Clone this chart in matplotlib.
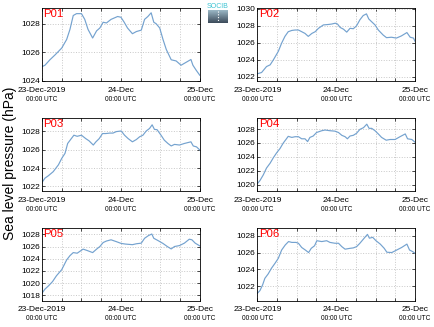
import numpy as np
import matplotlib
matplotlib.use('Agg')
import matplotlib.pyplot as plt

plt.rcParams['font.family'] = ['Liberation Sans', 'DejaVu Sans']

# hours since 23-Dec-2019 00:00 UTC and sea level pressure (hPa)
p01_h = [0, 0.9, 2.4, 4, 6, 7.5, 8.5, 9.5, 10.5, 12, 13, 14, 15.4, 16.6, 17.6, 18.6, 19.6, 21, 23, 24,
         25, 26, 27.5, 28.7, 30.2, 31.2, 32.2, 33.2, 34, 34.7, 35.8, 36.8, 37.8, 39.3, 40.8, 42.3, 43.8,
         45.3, 45.9, 46.9, 48]
p01_v = [1025.0, 1025.1, 1025.48, 1025.83, 1026.3, 1026.9, 1027.6, 1028.57, 1028.7, 1028.7, 1028.3, 1027.6,
         1027.0, 1027.5, 1027.7, 1028.1, 1028.05, 1028.3, 1028.5, 1028.45, 1028.1, 1027.7, 1027.3, 1027.45,
         1027.55, 1028.3, 1028.5, 1028.76, 1028.1, 1028.0, 1027.7, 1026.9, 1026.2, 1025.48, 1025.4, 1025.1,
         1025.3, 1025.5, 1025.1, 1024.75, 1024.4]

p02_h = [0, 1.3, 2.8, 3.9, 4.9, 6.4, 7.4, 8.4, 9.4, 10.5, 11.5, 12.5, 13.5, 14.5, 15.5, 16.6, 17.6, 18.6,
         20.1, 21.6, 22.6, 23.7, 24.4, 25.2, 26.2, 27.2, 28.2, 29.2, 30.2, 31.2, 32.2, 33.2, 33.9, 34.7,
         35.8, 36.8, 38.3, 39.3, 40.8, 42.3, 43.8, 45.5, 46.5, 47.5, 48]
p02_v = [1022.35, 1022.5, 1023.2, 1023.4, 1024.0, 1025.0, 1025.96, 1026.75, 1027.3, 1027.45, 1027.5, 1027.5,
         1027.3, 1027.1, 1026.75, 1027.1, 1027.3, 1027.7, 1028.1, 1028.15, 1028.2, 1028.3, 1028.2, 1027.8,
         1027.6, 1027.25, 1027.7, 1027.65, 1028.0, 1028.7, 1029.2, 1029.4, 1028.8, 1028.5, 1028.1, 1027.5,
         1026.9, 1026.6, 1026.65, 1026.55, 1026.8, 1027.2, 1026.65, 1026.55, 1026.15]

p03_h = [0, 0.9, 1.9, 3.4, 5, 6, 7, 7.8, 8.7, 9.7, 10.7, 12, 13.3, 14.3, 15.6, 16.4, 17.4, 18.4, 19.4,
         20.6, 21.6, 22.6, 24.1, 25.1, 26.2, 27.5, 28.7, 29.7, 30.7, 31.7, 32.7, 33.5, 34.2, 35, 36.2,
         37.2, 38.3, 39.3, 40.3, 41.8, 43.3, 45.3, 46, 47, 48]
p03_v = [1022.43, 1022.9, 1023.15, 1023.6, 1024.35, 1025.05, 1025.6, 1026.67, 1027.1, 1027.57, 1027.45,
         1027.57, 1027.2, 1026.96, 1026.5, 1026.85, 1027.2, 1027.75, 1027.75, 1027.8, 1027.8, 1027.96,
         1028.03, 1027.57, 1027.2, 1026.85, 1027.1, 1027.4, 1027.57, 1028.03, 1028.3, 1028.7, 1028.2,
         1028.17, 1027.57, 1027.03, 1026.67, 1026.4, 1026.57, 1026.5, 1026.67, 1026.85, 1026.4, 1026.3,
         1025.96]

p04_h = [0, 0.8, 1.8, 2.8, 3.9, 4.9, 5.9, 6.9, 7.9, 8.7, 9.4, 10.5, 11.5, 12.5, 13.5, 14.5, 15.3, 16, 17,
         18, 19.6, 20.6, 22.1, 23.6, 24.7, 25.7, 26.7, 27.4, 28.2, 29.2, 30.2, 31.2, 32.3, 33.3, 34, 34.8,
         35.8, 36.8, 37.8, 39.2, 40.4, 41.9, 43.4, 45, 45.7, 47, 48]
p04_v = [1020.14, 1020.6, 1021.4, 1022.4, 1023.1, 1023.9, 1024.6, 1025.2, 1026.0, 1026.5, 1026.95, 1026.8,
         1026.9, 1026.9, 1026.6, 1026.6, 1026.2, 1026.8, 1027.0, 1027.5, 1027.76, 1027.86, 1027.76, 1027.7,
         1027.5, 1027.1, 1026.9, 1026.6, 1027.0, 1027.1, 1027.4, 1027.95, 1028.2, 1028.7, 1028.1, 1028.1,
         1027.76, 1027.3, 1026.8, 1026.4, 1026.5, 1026.5, 1026.9, 1027.3, 1026.6, 1026.5, 1026.1]

p05_h = [0, 0.9, 1.9, 3.2, 4.4, 6, 7.5, 8.5, 9.5, 10.7, 11.5, 12.5, 13.7, 15.4, 16.6, 17.6, 18.6, 19.6, 21,
         22.6, 24.1, 25.4, 27.5, 28.7, 30.2, 31.2, 32.4, 33.4, 34, 35.3, 36.8, 38.1, 39.3, 40.3, 41.8,
         43.3, 44.8, 45.6, 46.6, 48]
p05_v = [1018.33, 1019.0, 1019.5, 1020.24, 1021.2, 1022.2, 1023.8, 1024.5, 1025.0, 1024.9, 1025.2, 1025.57,
         1025.35, 1025.0, 1025.57, 1026.0, 1026.65, 1026.9, 1027.1, 1026.8, 1026.5, 1026.4, 1026.3, 1026.45,
         1026.55, 1027.35, 1027.8, 1028.05, 1027.35, 1026.97, 1026.5, 1026.0, 1025.6, 1026.0, 1026.15,
         1026.55, 1027.2, 1027.1, 1026.55, 1026.1]

p06_h = [0, 0.8, 1.6, 2.3, 3.3, 4.3, 5.4, 6.4, 7.4, 8.5, 9.5, 10.5, 11.8, 12.5, 13.5, 14.6, 15.6, 16.4,
         17.4, 18.1, 19.6, 21.1, 22.1, 23.6, 24.7, 25.7, 26.7, 28.2, 29.2, 30.2, 31.2, 32.5, 33.5, 34.1,
         35.1, 36.1, 37.4, 38.6, 39.4, 40.9, 42.4, 43.9, 45.5, 46.3, 47.3, 48]
p06_v = [1021.17, 1021.5, 1022.16, 1022.95, 1023.47, 1024.14, 1024.74, 1025.33, 1026.3, 1026.9, 1027.3,
         1027.2, 1027.2, 1027.1, 1026.6, 1026.3, 1026.0, 1026.5, 1026.8, 1027.4, 1027.3, 1027.4, 1027.2,
         1027.1, 1027.1, 1026.7, 1026.4, 1026.5, 1026.55, 1026.7, 1027.1, 1027.7, 1028.15, 1027.7, 1027.8,
         1027.4, 1027.0, 1026.5, 1026.04, 1026.0, 1026.3, 1026.6, 1027.0, 1026.3, 1026.1, 1025.9]

names = ['P01', 'P02', 'P03', 'P04', 'P05', 'P06']
hours = [p01_h, p02_h, p03_h, p04_h, p05_h, p06_h]
values = [p01_v, p02_v, p03_v, p04_v, p05_v, p06_v]
ylims = [(1024, 1029.1), (1021.5, 1030.1), (1021.5, 1029.45),
         (1019.1, 1029.6), (1017.1, 1029.1), (1020.3, 1028.95)]
yticks = [[1024, 1026, 1028], [1022, 1024, 1026, 1028, 1030], [1022, 1024, 1026, 1028],
          [1020, 1022, 1024, 1026, 1028], [1018, 1020, 1022, 1024, 1026, 1028], [1022, 1024, 1026, 1028]]
xlabels = ['23-Dec-2019', '24-Dec', '25-Dec']

fig = plt.figure(figsize=(4.34, 3.27), dpi=100)
lefts = [0.0968, 0.5929]
bottoms = [0.7523, 0.4159, 0.0804]

for i in range(6):
    ax = fig.add_axes([lefts[i % 2], bottoms[i // 2], 0.3636, 0.2235])
    ax.plot(hours[i], values[i], color='#74a2cf', lw=0.85)
    ax.set_xlim(0, 48)
    ax.set_ylim(*ylims[i])
    ax.set_xticks(np.arange(0, 49, 6))
    ax.set_xticklabels(['' if h % 24 else xlabels[h // 24] for h in range(0, 49, 6)])
    ax.set_yticks(yticks[i])
    ax.tick_params(direction='in', top=True, right=True, length=2.5, width=0.5,
                   labelsize=6, pad=1.5)
    ax.tick_params(axis='x', pad=4)
    ax.grid(True, color='#c8c8c8', linestyle=':', linewidth=0.7)
    for s in ax.spines.values():
        s.set_linewidth(0.6)
    for h in [0, 24, 48]:
        ax.text(h, -0.2, '00:00 UTC', transform=ax.get_xaxis_transform(),
                ha='center', va='top', fontsize=4.7)
    ax.text(0.01, 0.98, names[i], transform=ax.transAxes, color='red',
            fontsize=8.2, ha='left', va='top')

fig.text(0.023, 0.5, 'Sea level pressure (hPa)', rotation=90, ha='center', va='center',
         fontsize=10)

# small logo at the top
lax = fig.add_axes([208 / 434, 1 - 23 / 327, 20 / 434, 13 / 327])
grad = np.linspace(0, 1, 50).reshape(-1, 1)
lax.imshow(grad, aspect='auto', extent=(-0.5, 0.5, 50, 0),
           cmap=matplotlib.colors.LinearSegmentedColormap.from_list('g', ['#9bb8c6', '#3c4b5a']))
lax.plot([0, 0], [5, 45], color='white', lw=0.8, linestyle=(0, (1, 1.5)))
lax.set_xlim(-0.5, 0.5)
lax.set_ylim(50, 0)
lax.axis('off')
fig.text(218 / 434, 1 - 7 / 327, 'SOCIB', color='#3cc3d3', fontsize=5, ha='center',
         va='center')

fig.savefig('out.png', dpi=100)
